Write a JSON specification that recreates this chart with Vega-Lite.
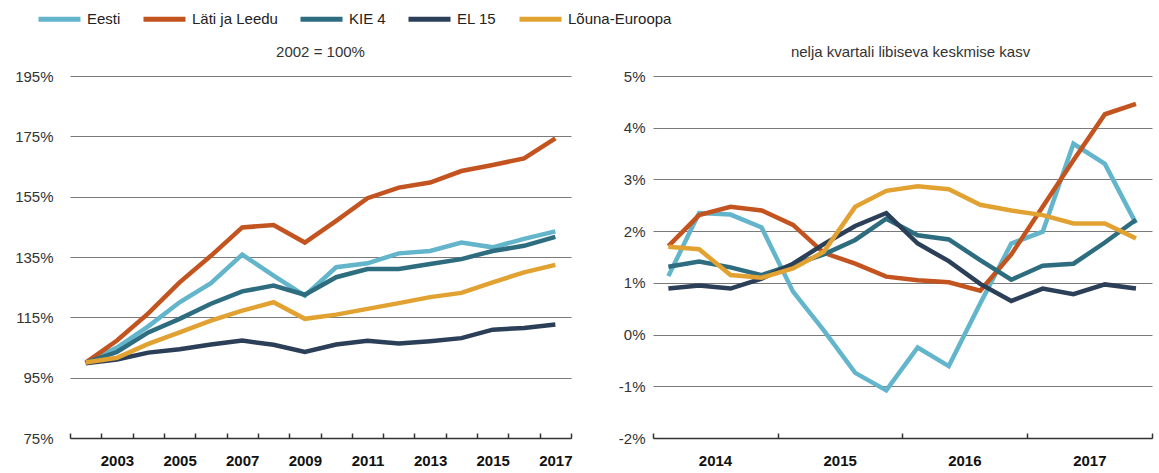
{
  "$schema": "https://vega.github.io/schema/vega-lite/v6.json",
  "padding": {"left": 14, "top": -5, "right": 8, "bottom": 0},
  "background": "white",
  "config": {
    "font": "Liberation Sans",
    "view": {"stroke": null},
    "title": {"fontWeight": "normal", "fontSize": 15, "color": "#333", "offset": 9, "anchor": "middle"},
    "axis": {"labelFont": "Liberation Sans", "titleFont": "Liberation Sans"},
    "legend": {"labelFont": "Liberation Sans"}
  },
  "spacing": 45,
  "datasets": {
    "annual": [
      {"series": "Eesti", "year": 2002, "value": 100}, {"series": "Eesti", "year": 2003, "value": 105}, {"series": "Eesti", "year": 2004, "value": 112}, {"series": "Eesti", "year": 2005, "value": 120}, {"series": "Eesti", "year": 2006, "value": 126.3}, {"series": "Eesti", "year": 2007, "value": 135.8}, {"series": "Eesti", "year": 2008, "value": 128.8}, {"series": "Eesti", "year": 2009, "value": 122.2}, {"series": "Eesti", "year": 2010, "value": 131.6}, {"series": "Eesti", "year": 2011, "value": 132.9}, {"series": "Eesti", "year": 2012, "value": 136.2}, {"series": "Eesti", "year": 2013, "value": 137}, {"series": "Eesti", "year": 2014, "value": 139.8}, {"series": "Eesti", "year": 2015, "value": 138.2}, {"series": "Eesti", "year": 2016, "value": 141}, {"series": "Eesti", "year": 2017, "value": 143.5},
      {"series": "Läti ja Leedu", "year": 2002, "value": 100}, {"series": "Läti ja Leedu", "year": 2003, "value": 107.3}, {"series": "Läti ja Leedu", "year": 2004, "value": 116.3}, {"series": "Läti ja Leedu", "year": 2005, "value": 126.6}, {"series": "Läti ja Leedu", "year": 2006, "value": 135.4}, {"series": "Läti ja Leedu", "year": 2007, "value": 144.8}, {"series": "Läti ja Leedu", "year": 2008, "value": 145.6}, {"series": "Läti ja Leedu", "year": 2009, "value": 139.8}, {"series": "Läti ja Leedu", "year": 2010, "value": 147}, {"series": "Läti ja Leedu", "year": 2011, "value": 154.5}, {"series": "Läti ja Leedu", "year": 2012, "value": 158}, {"series": "Läti ja Leedu", "year": 2013, "value": 159.7}, {"series": "Läti ja Leedu", "year": 2014, "value": 163.5}, {"series": "Läti ja Leedu", "year": 2015, "value": 165.5}, {"series": "Läti ja Leedu", "year": 2016, "value": 167.7}, {"series": "Läti ja Leedu", "year": 2017, "value": 174.3},
      {"series": "KIE 4", "year": 2002, "value": 100}, {"series": "KIE 4", "year": 2003, "value": 103.5}, {"series": "KIE 4", "year": 2004, "value": 110}, {"series": "KIE 4", "year": 2005, "value": 114.5}, {"series": "KIE 4", "year": 2006, "value": 119.5}, {"series": "KIE 4", "year": 2007, "value": 123.6}, {"series": "KIE 4", "year": 2008, "value": 125.5}, {"series": "KIE 4", "year": 2009, "value": 122.5}, {"series": "KIE 4", "year": 2010, "value": 128.3}, {"series": "KIE 4", "year": 2011, "value": 131}, {"series": "KIE 4", "year": 2012, "value": 131}, {"series": "KIE 4", "year": 2013, "value": 132.7}, {"series": "KIE 4", "year": 2014, "value": 134.3}, {"series": "KIE 4", "year": 2015, "value": 137}, {"series": "KIE 4", "year": 2016, "value": 138.7}, {"series": "KIE 4", "year": 2017, "value": 141.7},
      {"series": "EL 15", "year": 2002, "value": 99.8}, {"series": "EL 15", "year": 2003, "value": 101}, {"series": "EL 15", "year": 2004, "value": 103.3}, {"series": "EL 15", "year": 2005, "value": 104.4}, {"series": "EL 15", "year": 2006, "value": 106}, {"series": "EL 15", "year": 2007, "value": 107.3}, {"series": "EL 15", "year": 2008, "value": 105.9}, {"series": "EL 15", "year": 2009, "value": 103.5}, {"series": "EL 15", "year": 2010, "value": 106}, {"series": "EL 15", "year": 2011, "value": 107.2}, {"series": "EL 15", "year": 2012, "value": 106.3}, {"series": "EL 15", "year": 2013, "value": 107.1}, {"series": "EL 15", "year": 2014, "value": 108.1}, {"series": "EL 15", "year": 2015, "value": 110.9}, {"series": "EL 15", "year": 2016, "value": 111.5}, {"series": "EL 15", "year": 2017, "value": 112.6},
      {"series": "Lõuna-Euroopa", "year": 2002, "value": 100}, {"series": "Lõuna-Euroopa", "year": 2003, "value": 101.6}, {"series": "Lõuna-Euroopa", "year": 2004, "value": 106.2}, {"series": "Lõuna-Euroopa", "year": 2005, "value": 110}, {"series": "Lõuna-Euroopa", "year": 2006, "value": 113.9}, {"series": "Lõuna-Euroopa", "year": 2007, "value": 117.2}, {"series": "Lõuna-Euroopa", "year": 2008, "value": 120}, {"series": "Lõuna-Euroopa", "year": 2009, "value": 114.5}, {"series": "Lõuna-Euroopa", "year": 2010, "value": 115.9}, {"series": "Lõuna-Euroopa", "year": 2011, "value": 117.8}, {"series": "Lõuna-Euroopa", "year": 2012, "value": 119.7}, {"series": "Lõuna-Euroopa", "year": 2013, "value": 121.7}, {"series": "Lõuna-Euroopa", "year": 2014, "value": 123.1}, {"series": "Lõuna-Euroopa", "year": 2015, "value": 126.6}, {"series": "Lõuna-Euroopa", "year": 2016, "value": 129.9}, {"series": "Lõuna-Euroopa", "year": 2017, "value": 132.4}
    ],
    "quarterly": [
      {"series": "Eesti", "date": "2014-02-15", "value": 1.13}, {"series": "Eesti", "date": "2014-05-16", "value": 2.35}, {"series": "Eesti", "date": "2014-08-16", "value": 2.32}, {"series": "Eesti", "date": "2014-11-15", "value": 2.07}, {"series": "Eesti", "date": "2015-02-15", "value": 0.83}, {"series": "Eesti", "date": "2015-05-16", "value": 0.08}, {"series": "Eesti", "date": "2015-08-16", "value": -0.74}, {"series": "Eesti", "date": "2015-11-15", "value": -1.08}, {"series": "Eesti", "date": "2016-02-15", "value": -0.25}, {"series": "Eesti", "date": "2016-05-16", "value": -0.61}, {"series": "Eesti", "date": "2016-08-16", "value": 0.6}, {"series": "Eesti", "date": "2016-11-15", "value": 1.76}, {"series": "Eesti", "date": "2017-02-15", "value": 1.99}, {"series": "Eesti", "date": "2017-05-16", "value": 3.69}, {"series": "Eesti", "date": "2017-08-16", "value": 3.3}, {"series": "Eesti", "date": "2017-11-15", "value": 2.15},
      {"series": "Läti ja Leedu", "date": "2014-02-15", "value": 1.71}, {"series": "Läti ja Leedu", "date": "2014-05-16", "value": 2.31}, {"series": "Läti ja Leedu", "date": "2014-08-16", "value": 2.47}, {"series": "Läti ja Leedu", "date": "2014-11-15", "value": 2.4}, {"series": "Läti ja Leedu", "date": "2015-02-15", "value": 2.12}, {"series": "Läti ja Leedu", "date": "2015-05-16", "value": 1.58}, {"series": "Läti ja Leedu", "date": "2015-08-16", "value": 1.37}, {"series": "Läti ja Leedu", "date": "2015-11-15", "value": 1.12}, {"series": "Läti ja Leedu", "date": "2016-02-15", "value": 1.05}, {"series": "Läti ja Leedu", "date": "2016-05-16", "value": 1.01}, {"series": "Läti ja Leedu", "date": "2016-08-16", "value": 0.85}, {"series": "Läti ja Leedu", "date": "2016-11-15", "value": 1.55}, {"series": "Läti ja Leedu", "date": "2017-02-15", "value": 2.47}, {"series": "Läti ja Leedu", "date": "2017-05-16", "value": 3.37}, {"series": "Läti ja Leedu", "date": "2017-08-16", "value": 4.26}, {"series": "Läti ja Leedu", "date": "2017-11-15", "value": 4.46},
      {"series": "KIE 4", "date": "2014-02-15", "value": 1.31}, {"series": "KIE 4", "date": "2014-05-16", "value": 1.41}, {"series": "KIE 4", "date": "2014-08-16", "value": 1.3}, {"series": "KIE 4", "date": "2014-11-15", "value": 1.15}, {"series": "KIE 4", "date": "2015-02-15", "value": 1.35}, {"series": "KIE 4", "date": "2015-05-16", "value": 1.55}, {"series": "KIE 4", "date": "2015-08-16", "value": 1.83}, {"series": "KIE 4", "date": "2015-11-15", "value": 2.24}, {"series": "KIE 4", "date": "2016-02-15", "value": 1.92}, {"series": "KIE 4", "date": "2016-05-16", "value": 1.84}, {"series": "KIE 4", "date": "2016-08-16", "value": 1.44}, {"series": "KIE 4", "date": "2016-11-15", "value": 1.06}, {"series": "KIE 4", "date": "2017-02-15", "value": 1.33}, {"series": "KIE 4", "date": "2017-05-16", "value": 1.37}, {"series": "KIE 4", "date": "2017-08-16", "value": 1.78}, {"series": "KIE 4", "date": "2017-11-15", "value": 2.22},
      {"series": "EL 15", "date": "2014-02-15", "value": 0.89}, {"series": "EL 15", "date": "2014-05-16", "value": 0.95}, {"series": "EL 15", "date": "2014-08-16", "value": 0.89}, {"series": "EL 15", "date": "2014-11-15", "value": 1.08}, {"series": "EL 15", "date": "2015-02-15", "value": 1.37}, {"series": "EL 15", "date": "2015-05-16", "value": 1.75}, {"series": "EL 15", "date": "2015-08-16", "value": 2.1}, {"series": "EL 15", "date": "2015-11-15", "value": 2.35}, {"series": "EL 15", "date": "2016-02-15", "value": 1.76}, {"series": "EL 15", "date": "2016-05-16", "value": 1.42}, {"series": "EL 15", "date": "2016-08-16", "value": 0.98}, {"series": "EL 15", "date": "2016-11-15", "value": 0.65}, {"series": "EL 15", "date": "2017-02-15", "value": 0.89}, {"series": "EL 15", "date": "2017-05-16", "value": 0.78}, {"series": "EL 15", "date": "2017-08-16", "value": 0.97}, {"series": "EL 15", "date": "2017-11-15", "value": 0.89},
      {"series": "Lõuna-Euroopa", "date": "2014-02-15", "value": 1.7}, {"series": "Lõuna-Euroopa", "date": "2014-05-16", "value": 1.65}, {"series": "Lõuna-Euroopa", "date": "2014-08-16", "value": 1.15}, {"series": "Lõuna-Euroopa", "date": "2014-11-15", "value": 1.1}, {"series": "Lõuna-Euroopa", "date": "2015-02-15", "value": 1.28}, {"series": "Lõuna-Euroopa", "date": "2015-05-16", "value": 1.6}, {"series": "Lõuna-Euroopa", "date": "2015-08-16", "value": 2.47}, {"series": "Lõuna-Euroopa", "date": "2015-11-15", "value": 2.78}, {"series": "Lõuna-Euroopa", "date": "2016-02-15", "value": 2.87}, {"series": "Lõuna-Euroopa", "date": "2016-05-16", "value": 2.81}, {"series": "Lõuna-Euroopa", "date": "2016-08-16", "value": 2.51}, {"series": "Lõuna-Euroopa", "date": "2016-11-15", "value": 2.4}, {"series": "Lõuna-Euroopa", "date": "2017-02-15", "value": 2.31}, {"series": "Lõuna-Euroopa", "date": "2017-05-16", "value": 2.15}, {"series": "Lõuna-Euroopa", "date": "2017-08-16", "value": 2.15}, {"series": "Lõuna-Euroopa", "date": "2017-11-15", "value": 1.86}
    ]
  },
  "hconcat": [
    {
      "width": 501,
      "height": 362,
      "title": {"text": "2002 = 100%"},
      "data": {"name": "annual"},
      "mark": {"type": "line", "strokeWidth": 4.5},
      "encoding": {
        "x": {
          "field": "year", "type": "ordinal", "bandPosition": 0.5,
          "scale": {"type": "band", "paddingInner": 0, "paddingOuter": 0},
          "axis": {"title": null, "tickBand": "extent", "labelAngle": 0, "grid": false,
            "labelExpr": "datum.value % 2 == 1 ? datum.value : ''",
            "domainColor": "#333", "domainWidth": 1.5, "tickColor": "#333", "tickWidth": 1.5, "tickSize": -5,
            "labelFontWeight": "bold", "labelFontSize": 15, "labelColor": "#111", "labelPadding": 20}
        },
        "y": {
          "field": "value", "type": "quantitative",
          "scale": {"domain": [75, 195], "nice": false, "zero": false},
          "axis": {"title": null, "values": [75, 95, 115, 135, 155, 175, 195], "labelExpr": "datum.value + '%'",
            "domain": false, "ticks": false, "gridColor": "#7a7a7a", "gridWidth": 1, "labelPadding": 17,
            "labelFontSize": 15, "labelColor": "#333"}
        },
        "color": {
          "field": "series", "type": "nominal",
          "sort": ["Eesti", "Läti ja Leedu", "KIE 4", "EL 15", "Lõuna-Euroopa"],
          "scale": {"domain": ["Eesti", "Läti ja Leedu", "KIE 4", "EL 15", "Lõuna-Euroopa"],
            "range": ["#63b5cb", "#c3531f", "#2d6d7f", "#2b3f58", "#e2a232"]},
          "legend": {"title": null, "orient": "none", "legendX": -34, "legendY": -80.5, "direction": "horizontal", "symbolType": "stroke",
            "symbolStrokeWidth": 5, "symbolSize": 1764, "labelFontSize": 15, "labelColor": "#222",
            "columnPadding": 12, "labelOffset": 4}
        }
      }
    },
    {
      "width": 499,
      "height": 362,
      "title": {"text": "nelja kvartali libiseva keskmise kasv", "dx": 8},
      "data": {"name": "quarterly"},
      "mark": {"type": "line", "strokeWidth": 4.5},
      "encoding": {
        "x": {
          "field": "date", "type": "temporal",
          "scale": {"type": "utc", "domain": [{"year": 2014, "month": 1, "date": 1, "utc": true}, {"year": 2018, "month": 1, "date": 1, "utc": true}]},
          "axis": {"title": null, "grid": false, "labelAngle": 0,
            "values": [{"year": 2014, "month": 1, "date": 1, "utc": true}, {"year": 2015, "month": 1, "date": 1, "utc": true}, {"year": 2016, "month": 1, "date": 1, "utc": true}, {"year": 2017, "month": 1, "date": 1, "utc": true}, {"year": 2018, "month": 1, "date": 1, "utc": true}],
            "labelExpr": "utcyear(datum.value) < 2018 ? utcFormat(datum.value, '%Y') : ''",
            "labelOffset": 62, "labelAlign": "center", "labelFlush": false, "labelOverlap": false,
            "domainColor": "#333", "domainWidth": 1.5, "tickColor": "#333", "tickWidth": 1.5, "tickSize": -5,
            "labelFontWeight": "bold", "labelFontSize": 15, "labelColor": "#111", "labelPadding": 20}
        },
        "y": {
          "field": "value", "type": "quantitative",
          "scale": {"domain": [-2, 5], "nice": false, "zero": false},
          "axis": {"title": null, "values": [-2, -1, 0, 1, 2, 3, 4, 5], "labelExpr": "datum.value + '%'",
            "domain": false, "ticks": false, "gridColor": "#7a7a7a", "gridWidth": 1, "labelPadding": 8,
            "labelFontSize": 15, "labelColor": "#333"}
        },
        "color": {
          "field": "series", "type": "nominal",
          "sort": ["Eesti", "Läti ja Leedu", "KIE 4", "EL 15", "Lõuna-Euroopa"],
          "scale": {"domain": ["Eesti", "Läti ja Leedu", "KIE 4", "EL 15", "Lõuna-Euroopa"],
            "range": ["#63b5cb", "#c3531f", "#2d6d7f", "#2b3f58", "#e2a232"]},
          "legend": null
        }
      }
    }
  ]
}
